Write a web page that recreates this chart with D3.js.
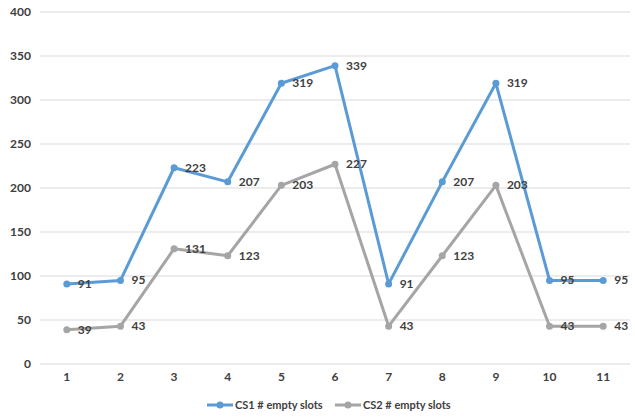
<!DOCTYPE html>
<html><head><meta charset="utf-8">
<script src="https://cdn.jsdelivr.net/npm/d3@7/dist/d3.min.js"></script>
<style>body{margin:0;background:#fff}svg{display:block}text{font-family:Lato,"Open Sans","Liberation Sans",Arial,sans-serif;}</style>
</head><body>
<svg id="c" width="635" height="417"></svg>
<script>
const categories = ["1","2","3","4","5","6","7","8","9","10","11"];
const cs1 = [91,95,223,207,319,339,91,207,319,95,95];
const cs2 = [39,43,131,123,203,227,43,123,203,43,43];
const yTicks = [0,50,100,150,200,250,300,350,400];
const seriesNames = ["CS1 # empty slots","CS2 # empty slots"];
const colors = ["#5B9BD5","#A5A5A5"];

const svg = d3.select("#c");
const x = d3.scaleBand().domain(categories).range([40,630]);
const y = d3.scaleLinear().domain([0,400]).range([364,12]);

svg.append("g").selectAll("line").data(yTicks).join("line")
  .attr("x1",40).attr("x2",630).attr("y1",d=>y(d)).attr("y2",d=>y(d))
  .attr("stroke","#D9D9D9").attr("stroke-width",1);

const yAxis = d3.axisLeft(y).tickValues(yTicks).tickSize(0).tickPadding(0);
const gy = svg.append("g").attr("transform","translate(31,0)").call(yAxis);
gy.select(".domain").remove();
gy.selectAll("text").attr("fill","#404040").attr("font-size","12px").attr("font-weight","bold");

const xAxis = d3.axisBottom(x).tickSize(0).tickPadding(0);
const gx = svg.append("g").attr("transform","translate(0,372)").call(xAxis);
gx.select(".domain").remove();
gx.selectAll("text").attr("fill","#404040").attr("font-size","12px").attr("font-weight","bold");

const cx = d => x(d) + x.bandwidth()/2;
const series = [cs1, cs2];
series.forEach((vals,i)=>{
  const data = categories.map((c,j)=>({c, v: vals[j]}));
  const line = d3.line().x(d=>cx(d.c)).y(d=>y(d.v));
  svg.append("path").datum(data).attr("d",line).attr("fill","none")
    .attr("stroke",colors[i]).attr("stroke-width",3).attr("stroke-linejoin","round");
  svg.append("g").selectAll("circle").data(data).join("circle")
    .attr("cx",d=>cx(d.c)).attr("cy",d=>y(d.v)).attr("r",3.5).attr("fill",colors[i]);
});
series.forEach((vals,i)=>{
  const data = categories.map((c,j)=>({c, v: vals[j]}));
  svg.append("g").selectAll("text").data(data).join("text")
    .attr("x",d=>cx(d.c)+11).attr("y",d=>y(d.v)+4)
    .attr("fill","#404040").attr("font-size","12px").attr("font-weight","bold")
    .text(d=>d.v);
});

const legX = [207, 335];
seriesNames.forEach((n,i)=>{
  const g = svg.append("g").attr("transform",`translate(${legX[i]},405)`);
  g.append("line").attr("x1",0).attr("x2",26).attr("y1",0).attr("y2",0).attr("stroke",colors[i]).attr("stroke-width",3);
  g.append("circle").attr("cx",13).attr("cy",0).attr("r",3.5).attr("fill",colors[i]);
  g.append("text").attr("x",28).attr("y",4).attr("fill","#404040").attr("font-size","11px").attr("font-weight","bold").text(n);
});
</script>
</body></html>
